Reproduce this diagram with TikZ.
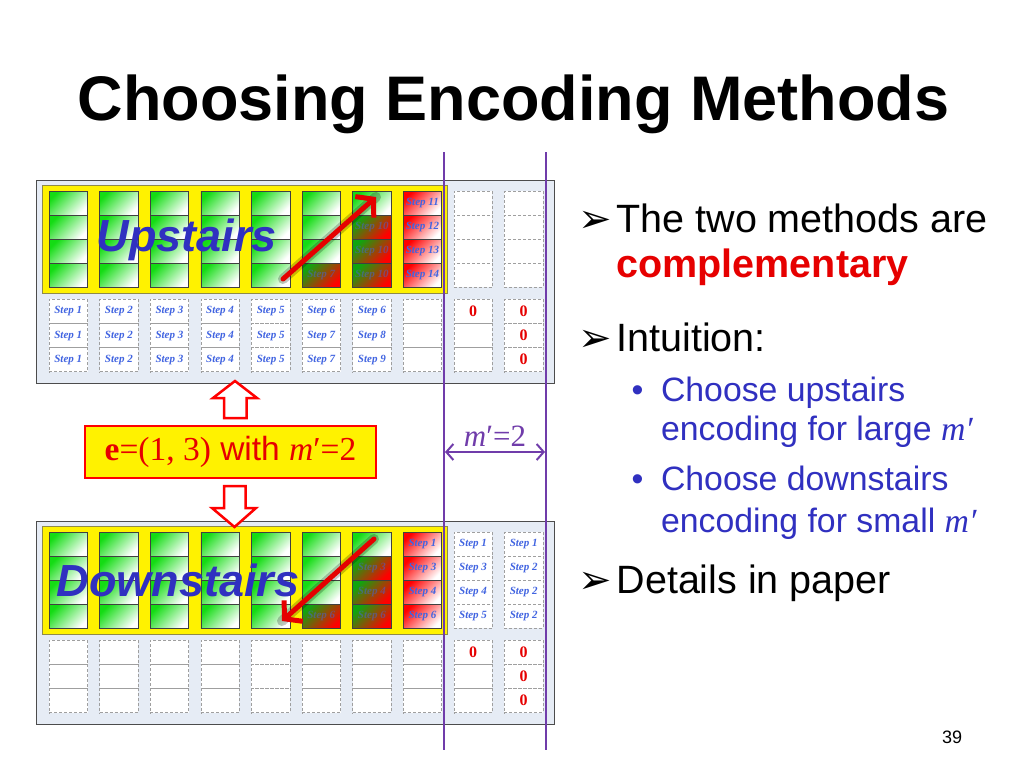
\documentclass[tikz,border=0pt]{standalone}
\usepackage{fontspec}
\setmainfont{Liberation Sans}
\newfontfamily\timesfont{Liberation Serif}
\newfontfamily\dingfont{DejaVu Sans}
\usepackage{tikz}
\usetikzlibrary{arrows.meta,positioning,calc}
\usepackage{xcolor}

\definecolor{panelbg}{RGB}{230,236,245}
\definecolor{stepblue}{RGB}{65,100,225}
\definecolor{labelblue}{RGB}{48,48,192}
\definecolor{mpurple}{RGB}{112,60,170}
\definecolor{cellgreen}{RGB}{20,220,20}
\definecolor{textred}{RGB}{230,0,0}

\tikzset{
  cellbase/.style={minimum width=38.5pt,minimum height=24.1pt,inner sep=0pt,outer sep=0pt,
    font=\timesfont\bfseries\itshape\fontsize{11}{11}\selectfont,text=stepblue},
  gcell/.style={cellbase,draw=black!75,line width=0.6pt,top color=cellgreen,bottom color=white,shading angle=45},
  rcell/.style={cellbase,draw=black!75,line width=0.6pt,top color=red,bottom color=white,shading angle=45},
  mcell/.style={cellbase,draw=black!75,line width=0.6pt,top color=cellgreen!75!black,bottom color=red,shading angle=45,text opacity=0.5},
  ecell/.style={cellbase,draw=gray!75,dash pattern=on 3pt off 2pt,line width=0.6pt,fill=white},
  zero/.style={text=textred,font=\timesfont\bfseries\fontsize{16}{16}\selectfont},
  stairlabel/.style={text=labelblue,font=\bfseries\itshape\fontsize{45}{45}\selectfont},
  bigarrow/.style={red!90!black,line width=5pt,line cap=round,line join=round,-{Straight Barb[length=12pt,width=28pt,line width=5pt]}},
  arrowshade/.style={black,opacity=0.22,line width=10pt,line cap=round},
  hollow/.style={draw=red,fill=white,line width=2.5pt,line join=miter},
  bodytext/.style={anchor=base west,font=\fontsize{39.5}{39.5}\selectfont},
  subtext/.style={anchor=base west,text=labelblue,font=\fontsize{33.8}{33.8}\selectfont},
  pointer/.style={anchor=base west,font=\dingfont\fontsize{40}{40}\selectfont}
}

\begin{document}
\begin{tikzpicture}[x=1pt,y=-1pt]
\useasboundingbox (0,0) rectangle (1024,768);
\fill[white] (0,0) rectangle (1024,768);

% title
\node[anchor=base,font=\bfseries\fontsize{63}{63}\selectfont] (title) at (513.5,120) {Choosing Encoding Methods};

% upstairs panel
\filldraw[fill=panelbg,draw=black!70,line width=0.8pt] (36.5,180) rectangle (554.5,383);
\filldraw[fill=yellow,draw=olive!50!gray,line width=1pt] (42.5,185.5) rectangle (447,293);
\begin{scope}[shift={(68.25,203.05)},x=50.6pt,y=-24.1pt]
\foreach \c in {1,...,5} \foreach \r in {1,...,4} \node[gcell] (u-\c-\r) at (\c-1,\r-1) {};
\foreach \r in {1,2,3} \node[gcell] (u-6-\r) at (5,\r-1) {};
\node[mcell] (u-6-4) at (5,3) {Step 7};
\node[gcell] (u-7-1) at (6,0) {};
\foreach \r in {2,3,4} \node[mcell] (u-7-\r) at (6,\r-1) {Step 10};
\foreach \r/\s in {1/11,2/12,3/13,4/14} \node[rcell] (u-8-\r) at (7,\r-1) {Step \s};
\foreach \c in {9,10} \foreach \r in {1,...,4} \node[ecell] (u-\c-\r) at (\c-1,\r-1) {};
% codewords
\foreach \c in {1,...,5} \foreach \r in {5,6,7} \node[ecell] (u-\c-\r) at (\c-1,\r-0.5) {Step \c};
\foreach \r/\s in {5/6,6/7,7/7} \node[ecell] (u-6-\r) at (5,\r-0.5) {Step \s};
\foreach \r/\s in {5/6,6/8,7/9} \node[ecell] (u-7-\r) at (6,\r-0.5) {Step \s};
\foreach \r in {5,6,7} \node[ecell] (u-8-\r) at (7,\r-0.5) {};
\node[ecell,zero] (u-9-5) at (8,4.5) {0};
\foreach \r in {6,7} \node[ecell] (u-9-\r) at (8,\r-0.5) {};
\foreach \r in {5,6,7} \node[ecell,zero] (u-10-\r) at (9,\r-0.5) {0};
\end{scope}
\node[stairlabel] (uplabel) at (187,240) {Upstairs};
\coordinate (upfrom) at (283,279);
\coordinate (upto) at (376,197);
\draw[arrowshade,shift={(6,5)}] (upfrom) -- (upto);
\draw[bigarrow] (upfrom) -- (upto);

% downstairs panel
\filldraw[fill=panelbg,draw=black!70,line width=0.8pt] (36.5,521) rectangle (554.5,724);
\filldraw[fill=yellow,draw=olive!50!gray,line width=1pt] (42.5,526.5) rectangle (447,634);
\begin{scope}[shift={(68.25,544.05)},x=50.6pt,y=-24.1pt]
\foreach \c in {1,...,5} \foreach \r in {1,...,4} \node[gcell] (l-\c-\r) at (\c-1,\r-1) {};
\foreach \r in {1,2,3} \node[gcell] (l-6-\r) at (5,\r-1) {};
\node[mcell] (l-6-4) at (5,3) {Step 6};
\node[gcell] (l-7-1) at (6,0) {};
\foreach \r/\s in {2/3,3/4,4/6} \node[mcell] (l-7-\r) at (6,\r-1) {Step \s};
\foreach \r/\s in {1/1,2/3,3/4,4/6} \node[rcell] (l-8-\r) at (7,\r-1) {Step \s};
\foreach \r/\s in {1/1,2/3,3/4,4/5} \node[ecell] (l-9-\r) at (8,\r-1) {Step \s};
\foreach \r/\s in {1/1,2/2,3/2,4/2} \node[ecell] (l-10-\r) at (9,\r-1) {Step \s};
% codewords
\foreach \c in {1,...,8} \foreach \r in {5,6,7} \node[ecell] (l-\c-\r) at (\c-1,\r-0.5) {};
\node[ecell,zero] (l-9-5) at (8,4.5) {0};
\foreach \r in {6,7} \node[ecell] (l-9-\r) at (8,\r-0.5) {};
\foreach \r in {5,6,7} \node[ecell,zero] (l-10-\r) at (9,\r-0.5) {0};
\end{scope}
\node[stairlabel] (downlabel) at (178,580) {Downstairs};
\coordinate (downfrom) at (374,539);
\coordinate (downto) at (282,621);
\draw[arrowshade,shift={(6,5)}] (downfrom) -- (downto);
\draw[bigarrow] (downfrom) -- (downto);

% error pattern
\draw[hollow] (235,381) -- (257,398) -- (246.5,398) -- (246.5,418) -- (224,418) -- (224,398) -- (213,398) -- cycle;
\node[draw=red,fill=yellow,line width=2pt,minimum width=291pt,minimum height=52pt,text=textred,
  font=\fontsize{33.5}{33.5}\selectfont] (ebox) at (230.5,452)
  {{\timesfont\bfseries e}{\timesfont=(1, 3)} with {\timesfont\itshape m}{\timesfont′=2}};
\draw[hollow] (234.5,527) -- (256,508) -- (245.5,508) -- (245.5,486) -- (224,486) -- (224,508) -- (212,508) -- cycle;

% m' bound
\draw[mpurple,line width=2.2pt] (444,152) -- (444,750);
\draw[mpurple,line width=2.2pt] (546,152) -- (546,750);
\coordinate (mleft) at (445,452);
\coordinate (mright) at (545,452);
\draw[mpurple,line width=2pt,{Straight Barb[length=7pt,width=16pt]}-{Straight Barb[length=7pt,width=16pt]}] (mleft) -- (mright);
\node[text=mpurple,font=\timesfont\fontsize{31}{31}\selectfont,above=2pt] (mlabel) at ($(mleft)!0.5!(mright)$) {\itshape m\upshape′=2};

% bullets
\node[pointer] (p1) at (575,232) {➢};
\node[bodytext] (t1) at (613,232) {The two methods are};
\node[bodytext,text=textred,font=\bfseries\fontsize{39.5}{39.5}\selectfont] (t2) at (613,277) {complementary};
\node[pointer] (p2) at (575,351) {➢};
\node[bodytext] (t3) at (613,351) {Intuition:};
\node[subtext] (b1) at (628,401) {•};
\node[subtext] (s1) at (657.5,401) {Choose upstairs};
\node[subtext] (s2) at (657.5,440) {encoding for large {\timesfont\itshape m′}};
\node[subtext] (b2) at (628,490) {•};
\node[subtext] (s3) at (657.5,490) {Choose downstairs};
\node[subtext] (s4) at (657.5,532) {encoding for small {\timesfont\itshape m′}};
\node[pointer] (p3) at (575,593) {➢};
\node[bodytext] (t4) at (613,593) {Details in paper};

\node[font=\fontsize{18}{18}\selectfont] (pagenum) at (952,737) {39};
\end{tikzpicture}
\end{document}
